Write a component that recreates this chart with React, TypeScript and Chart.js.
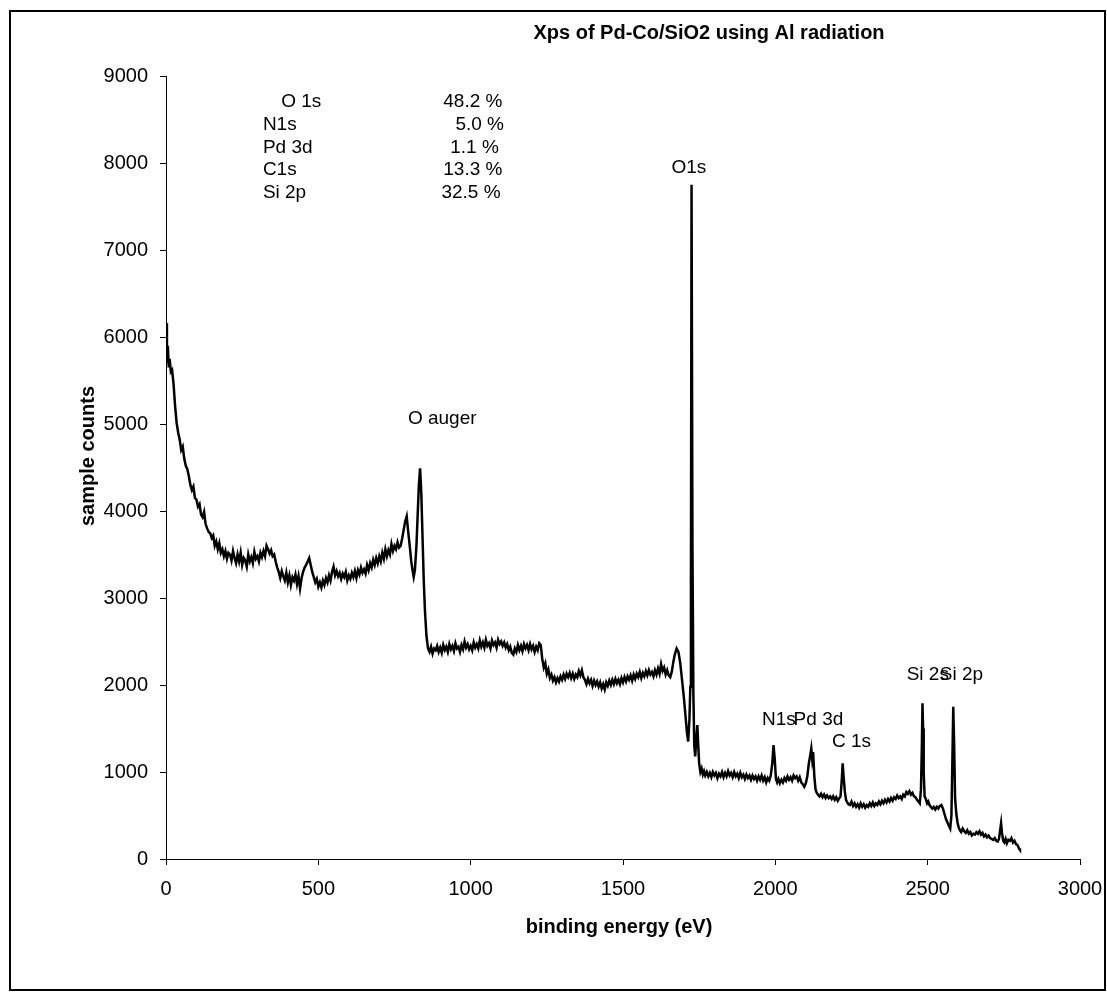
import React, { useEffect, useRef } from "react";
import { Chart, registerables } from "chart.js";

Chart.register(...registerables);

// Spectrum: [binding energy (eV), sample counts]
const spectrum: [number, number][] = [
  [0, 6160], [3, 5700], [6, 5900], [9, 5650], [12, 5750], [16, 5600], [20, 5620], [25, 5450], [30, 5200], [35, 5010],
  [40, 4900], [45, 4820], [50, 4700], [55, 4740], [60, 4600], [65, 4520], [70, 4480], [75, 4400], [80, 4300], [85, 4240],
  [90, 4280], [95, 4150], [100, 4130], [105, 4050], [110, 4080], [115, 3960], [120, 3930], [125, 3990], [130, 3850], [135, 3800],
  [140, 3760], [145, 3745], [150, 3690], [155, 3720], [160, 3600], [165, 3650], [170, 3560], [175, 3630], [180, 3520], [185, 3560],
  [190, 3480], [195, 3540], [200, 3450], [205, 3520], [210, 3500], [215, 3430], [220, 3540], [225, 3460], [230, 3400], [235, 3500],
  [240, 3420], [245, 3520], [250, 3380], [255, 3460], [260, 3430], [265, 3360], [270, 3500], [275, 3420], [280, 3470], [285, 3400],
  [290, 3530], [295, 3450], [300, 3480], [305, 3420], [310, 3520], [315, 3470], [320, 3540], [325, 3480], [330, 3600], [335, 3560],
  [340, 3510], [345, 3550], [350, 3480], [355, 3500], [360, 3420], [365, 3350], [370, 3300], [375, 3230], [380, 3310], [385, 3250],
  [390, 3200], [395, 3290], [400, 3180], [405, 3260], [410, 3150], [415, 3240], [420, 3200], [425, 3270], [430, 3160], [435, 3250],
  [440, 3110], [445, 3230], [450, 3300], [455, 3350], [460, 3380], [465, 3420], [470, 3460], [475, 3380], [480, 3300], [485, 3240],
  [490, 3180], [495, 3220], [500, 3130], [505, 3180], [510, 3120], [515, 3200], [520, 3150], [525, 3230], [530, 3180], [535, 3260],
  [540, 3200], [545, 3300], [550, 3360], [555, 3260], [560, 3310], [565, 3250], [570, 3290], [575, 3220], [580, 3280], [585, 3240],
  [590, 3300], [595, 3200], [600, 3260], [605, 3220], [610, 3290], [615, 3240], [620, 3310], [625, 3230], [630, 3320], [635, 3270],
  [640, 3350], [645, 3290], [650, 3330], [655, 3280], [660, 3380], [665, 3320], [670, 3400], [675, 3350], [680, 3440], [685, 3380],
  [690, 3460], [695, 3400], [700, 3480], [705, 3420], [710, 3520], [715, 3450], [720, 3560], [725, 3480], [730, 3550], [735, 3500],
  [740, 3620], [745, 3540], [750, 3600], [755, 3560], [760, 3640], [765, 3580], [770, 3600], [775, 3680], [780, 3780], [785, 3880],
  [790, 3940], [795, 3760], [800, 3600], [805, 3420], [810, 3300], [813, 3240], [817, 3320], [822, 3600], [826, 3950], [830, 4300],
  [834, 4490], [838, 4200], [842, 3700], [846, 3200], [850, 2850], [855, 2560], [860, 2420], [865, 2380], [870, 2440], [875, 2360],
  [880, 2420], [885, 2400], [890, 2450], [895, 2380], [900, 2430], [905, 2370], [910, 2460], [915, 2400], [920, 2440], [925, 2380],
  [930, 2470], [935, 2410], [940, 2450], [945, 2390], [950, 2480], [955, 2420], [960, 2440], [965, 2380], [970, 2460], [975, 2410],
  [980, 2500], [985, 2430], [990, 2470], [995, 2410], [1000, 2450], [1005, 2400], [1010, 2490], [1015, 2430], [1020, 2470], [1025, 2420],
  [1030, 2510], [1035, 2440], [1040, 2490], [1045, 2430], [1050, 2520], [1055, 2450], [1060, 2480], [1065, 2420], [1070, 2510], [1075, 2460],
  [1080, 2490], [1085, 2430], [1090, 2520], [1095, 2470], [1100, 2500], [1105, 2450], [1110, 2490], [1115, 2430], [1120, 2470], [1125, 2400],
  [1130, 2440], [1135, 2370], [1140, 2350], [1145, 2420], [1150, 2380], [1155, 2460], [1160, 2400], [1165, 2450], [1170, 2390], [1175, 2470],
  [1180, 2420], [1185, 2460], [1190, 2400], [1195, 2470], [1200, 2410], [1205, 2450], [1210, 2380], [1215, 2440], [1220, 2400], [1225, 2480],
  [1230, 2460], [1235, 2300], [1240, 2200], [1245, 2250], [1250, 2130], [1255, 2180], [1260, 2080], [1265, 2120], [1270, 2050], [1275, 2090],
  [1280, 2030], [1285, 2080], [1290, 2040], [1295, 2100], [1300, 2060], [1305, 2120], [1310, 2070], [1315, 2130], [1320, 2090], [1325, 2140],
  [1330, 2080], [1335, 2130], [1340, 2070], [1345, 2120], [1350, 2090], [1355, 2160], [1360, 2110], [1365, 2170], [1370, 2090], [1375, 2060],
  [1380, 2010], [1385, 2070], [1390, 2020], [1395, 2060], [1400, 1990], [1405, 2050], [1410, 2000], [1415, 2040], [1420, 1980], [1425, 2030],
  [1430, 1960], [1435, 2010], [1440, 1950], [1445, 2030], [1450, 1990], [1455, 2050], [1460, 2000], [1465, 2060], [1470, 2010], [1475, 2070],
  [1480, 2020], [1485, 2060], [1490, 2010], [1495, 2080], [1500, 2030], [1505, 2090], [1510, 2040], [1515, 2100], [1520, 2060], [1525, 2110],
  [1530, 2050], [1535, 2120], [1540, 2070], [1545, 2130], [1550, 2090], [1555, 2150], [1560, 2080], [1565, 2140], [1570, 2100], [1575, 2160],
  [1580, 2110], [1585, 2170], [1590, 2120], [1595, 2150], [1600, 2100], [1605, 2170], [1610, 2120], [1615, 2190], [1620, 2130], [1625, 2240],
  [1630, 2160], [1635, 2200], [1640, 2120], [1645, 2170], [1650, 2110], [1655, 2090], [1660, 2150], [1665, 2260], [1670, 2350], [1676, 2420],
  [1682, 2380], [1688, 2250], [1694, 2050], [1700, 1850], [1705, 1650], [1710, 1450], [1714, 1350], [1718, 1600], [1721, 1980], [1723, 3200],
  [1725, 7750], [1728, 3600], [1731, 1900], [1734, 1300], [1737, 1180], [1741, 1400], [1744, 1540], [1747, 1300], [1750, 1100],
  [1754, 1000], [1758, 1040], [1762, 970], [1766, 1010], [1770, 960], [1775, 1000], [1780, 950], [1785, 990], [1790, 940], [1795, 1000],
  [1800, 960], [1805, 990], [1810, 930], [1815, 980], [1820, 950], [1825, 1000], [1830, 940], [1835, 990], [1840, 950], [1845, 1010],
  [1850, 960], [1855, 990], [1860, 940], [1865, 1000], [1870, 950], [1875, 980], [1880, 930], [1885, 990], [1890, 940], [1895, 970],
  [1900, 920], [1905, 970], [1910, 930], [1915, 960], [1920, 910], [1925, 960], [1930, 920], [1935, 950], [1940, 900], [1945, 950],
  [1950, 910], [1955, 960], [1960, 900], [1965, 940], [1970, 880], [1975, 930], [1980, 900], [1985, 960], [1990, 1100], [1994, 1310],
  [1998, 1150], [2002, 920], [2006, 880], [2010, 920], [2015, 870], [2020, 910], [2025, 880], [2030, 930], [2035, 900], [2040, 950],
  [2045, 910], [2050, 940], [2055, 900], [2060, 960], [2065, 930], [2070, 950], [2075, 900], [2080, 940], [2085, 880], [2090, 860],
  [2095, 830], [2100, 870], [2105, 950], [2110, 1100], [2115, 1200], [2118, 1270], [2121, 1150], [2124, 1230], [2128, 950], [2132, 800],
  [2136, 760], [2140, 740], [2145, 720], [2150, 750], [2155, 710], [2160, 740], [2165, 700], [2170, 730], [2175, 700], [2180, 720],
  [2185, 690], [2190, 720], [2195, 680], [2200, 710], [2205, 670], [2210, 700], [2214, 720], [2218, 900], [2221, 1100], [2224, 950],
  [2228, 780], [2232, 680], [2236, 650], [2240, 630], [2245, 620], [2250, 660], [2255, 610], [2260, 640], [2265, 600], [2270, 630],
  [2275, 590], [2280, 640], [2285, 600], [2290, 630], [2295, 590], [2300, 620], [2305, 600], [2310, 640], [2315, 610], [2320, 650],
  [2325, 610], [2330, 640], [2335, 620], [2340, 660], [2345, 630], [2350, 670], [2355, 640], [2360, 680], [2365, 650], [2370, 690],
  [2375, 660], [2380, 700], [2385, 670], [2390, 710], [2395, 690], [2400, 730], [2405, 700], [2410, 720], [2415, 690], [2420, 740],
  [2425, 720], [2430, 770], [2435, 750], [2440, 780], [2445, 740], [2450, 760], [2455, 720], [2460, 710], [2465, 680], [2470, 660],
  [2474, 640], [2478, 800], [2481, 1300], [2483, 1790], [2485, 1500], [2487, 1000], [2490, 720], [2494, 690], [2498, 640], [2502, 660],
  [2506, 620], [2510, 600], [2515, 580], [2520, 600], [2525, 570], [2530, 600], [2535, 580], [2540, 610], [2545, 620], [2550, 580],
  [2555, 520], [2560, 460], [2565, 420], [2570, 380], [2574, 350], [2578, 500], [2581, 1100], [2584, 1750], [2587, 1300], [2590, 700],
  [2594, 520], [2598, 420], [2602, 360], [2606, 330], [2610, 310], [2615, 350], [2620, 320], [2625, 300], [2630, 330], [2635, 290],
  [2640, 310], [2645, 270], [2650, 290], [2655, 280], [2660, 310], [2665, 290], [2670, 320], [2675, 280], [2680, 300], [2685, 260],
  [2690, 280], [2695, 250], [2700, 270], [2705, 240], [2710, 230], [2715, 220], [2720, 240], [2725, 210], [2730, 200], [2734, 230],
  [2738, 330], [2741, 410], [2744, 300], [2748, 210], [2752, 190], [2756, 230], [2760, 180], [2765, 220], [2770, 210], [2775, 240],
  [2780, 190], [2785, 210], [2790, 170], [2795, 160], [2800, 120], [2803, 105],
];

const xTickValues = [0, 500, 1000, 1500, 2000, 2500, 3000];
const yTickValues = [0, 1000, 2000, 3000, 4000, 5000, 6000, 7000, 8000, 9000];

const chartTitle = "Xps of Pd-Co/SiO2 using Al radiation";
const xTitle = "binding energy (eV)";
const yTitle = "sample counts";

// Peak labels, anchored in data space: [text, eV, counts, align]
const peakLabels: [string, number, number, CanvasTextAlign][] = [
  ["O auger", 794, 5060, "left"],
  ["O1s", 1716, 7940, "center"],
  ["N1s", 1956, 1600, "left"],
  ["Pd 3d", 2060, 1600, "left"],
  ["C 1s", 2186, 1345, "left"],
  ["Si 2s", 2431, 2115, "left"],
  ["Si 2p", 2540, 2115, "left"],
];

// Composition box
const compNames = ["O 1s", "N1s", "Pd 3d", "C1s", "Si 2p"];
const compPercents = ["48.2 %", "5.0 %", "1.1 %", "13.3 %", "32.5 %"];
const compNameX = [378, 318, 318, 318, 318];
const compPctX = [910, 950, 933, 910, 904];
const compRowY = [8700, 8440, 8180, 7920, 7660];

const FONT = "'Liberation Sans', Arial, Helvetica, sans-serif";

const decorPlugin = {
  id: "decor",
  afterDraw(chart: any) {
    const ctx: CanvasRenderingContext2D = chart.ctx;
    const xs = chart.scales.x;
    const ys = chart.scales.y;
    ctx.save();
    // outer chart frame
    ctx.strokeStyle = "#000";
    ctx.lineWidth = 2;
    ctx.strokeRect(10, 11, 1095, 979);

    ctx.fillStyle = "#000";
    // title
    ctx.font = `bold 20px ${FONT}`;
    ctx.textAlign = "center";
    ctx.textBaseline = "middle";
    ctx.fillText(chartTitle, 709, 33);
    // x title
    ctx.fillText(xTitle, (xs.left + xs.right) / 2 - 4, 927);
    // y title
    ctx.save();
    ctx.translate(88, 456);
    ctx.rotate(-Math.PI / 2);
    ctx.fillText(yTitle, 0, 0);
    ctx.restore();

    // peak labels
    ctx.font = `19px ${FONT}`;
    for (const [t, ex, cy, al] of peakLabels) {
      ctx.textAlign = al;
      ctx.fillText(t, xs.getPixelForValue(ex), ys.getPixelForValue(cy));
    }
    // composition text
    ctx.textAlign = "left";
    for (let i = 0; i < compNames.length; i++) {
      const y = ys.getPixelForValue(compRowY[i]);
      ctx.fillText(compNames[i], xs.getPixelForValue(compNameX[i]), y);
      ctx.fillText(compPercents[i], xs.getPixelForValue(compPctX[i]), y);
    }
    ctx.restore();
  },
};

export default function App() {
  const ref = useRef<HTMLCanvasElement | null>(null);
  useEffect(() => {
    if (!ref.current) return;
    const chart = new Chart(ref.current, {
      type: "line",
      data: {
        datasets: [
          {
            data: spectrum.map(([x, y]) => ({ x, y })),
            borderColor: "#000",
            borderWidth: 2.5,
            pointRadius: 0,
            tension: 0,
            fill: false,
          },
        ],
      },
      options: {
        animation: false,
        responsive: false,
        devicePixelRatio: 1,
        layout: { padding: { top: 76, right: 27, bottom: 0, left: 0 } },
        plugins: { legend: { display: false }, tooltip: { enabled: false }, title: { display: false } },
        scales: {
          x: {
            type: "linear",
            min: 0,
            max: 3000,
            afterFit: (s: any) => {
              s.height = 133;
              s.paddingLeft = 0;
              s.paddingRight = 0;
            },
            afterBuildTicks: (s: any) => { s.ticks = xTickValues.map((v) => ({ value: v })); },
            ticks: { color: "#000", font: { size: 20, family: FONT }, padding: 12, maxRotation: 0, callback: (v: any) => String(v) },
            grid: { drawOnChartArea: false, drawTicks: true, tickLength: 6, color: "#000" },
            border: { display: true, color: "#000", width: 1 },
          },
          y: {
            type: "linear",
            min: 0,
            max: 9000,
            afterFit: (s: any) => {
              s.width = 166;
              s.paddingTop = 0;
              s.paddingBottom = 0;
            },
            afterBuildTicks: (s: any) => { s.ticks = yTickValues.map((v) => ({ value: v })); },
            ticks: { color: "#000", font: { size: 20, family: FONT }, padding: 12, callback: (v: any) => String(v) },
            grid: { drawOnChartArea: false, drawTicks: true, tickLength: 6, color: "#000" },
            border: { display: true, color: "#000", width: 1 },
          },
        },
      },
      plugins: [decorPlugin],
    });
    return () => chart.destroy();
  }, []);
  return (
    <div style={{ position: "fixed", left: 0, top: 0, width: 1107, height: 992, background: "#fff" }}>
      <canvas ref={ref} width={1107} height={992} style={{ width: 1107, height: 992, display: "block" }} />
    </div>
  );
}
